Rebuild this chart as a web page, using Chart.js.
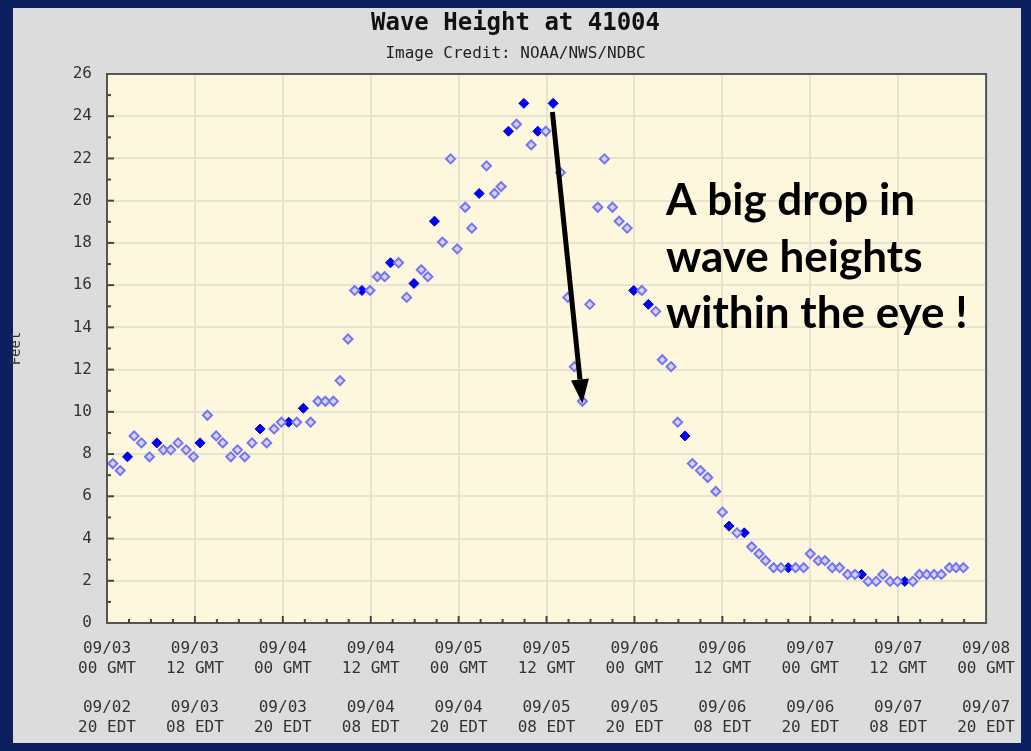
<!DOCTYPE html>
<html>
<head>
<meta charset="utf-8">
<script src="https://cdn.jsdelivr.net/npm/chart.js@4/dist/chart.umd.min.js"></script>
<style>
  html, body { margin: 0; padding: 0; background: #0c1f5f; }
  #wrap { width: 1031px; height: 751px; }
</style>
</head>
<body>
<div id="wrap"><canvas id="waveChart" width="1031" height="751"></canvas></div>
<script>
// wave height at buoy 41004, hours after 09/03 00 GMT
const openHours = [0.8, 1.8, 3.7, 4.7, 5.8, 7.7, 8.7, 9.7, 10.8, 11.8, 13.7, 14.9, 15.8, 16.9, 17.8, 18.8, 19.8,
  21.8, 22.8, 23.8, 25.9, 27.8, 28.8, 29.8, 30.9, 31.8, 32.9, 33.8, 35.9, 36.9, 37.9, 39.8, 40.9, 42.9, 43.8,
  45.8, 46.9, 47.8, 48.9, 49.8, 51.8, 52.9, 53.8, 55.9, 57.9, 59.9, 61.9, 62.9, 63.8, 64.9, 65.9, 67.0, 67.9,
  69.0, 69.9, 71.0, 73.0, 74.9, 75.8, 77.0, 77.9, 79.9, 81.0, 82.0, 83.1, 84.0, 86.0, 88.0, 89.0, 89.9, 91.0,
  92.0, 94.0, 95.1, 96.0, 97.1, 98.0, 99.0, 100.0, 101.1, 102.1, 103.9, 105.0, 105.9, 106.9, 107.9, 110.0,
  110.9, 111.9, 112.9, 113.9, 115.0, 115.9, 116.9];
const openFeet = [7.55, 7.22, 8.86, 8.53, 7.87, 8.2, 8.2, 8.53, 8.2, 7.87, 9.84, 8.86, 8.53, 7.87, 8.2, 7.87, 8.53,
  8.53, 9.19, 9.51, 9.51, 9.51, 10.5, 10.5, 10.5, 11.48, 13.45, 15.75, 15.75, 16.4, 16.4, 17.06, 15.42, 16.73, 16.4,
  18.04, 21.98, 17.72, 19.69, 18.7, 21.65, 20.34, 20.67, 23.62, 22.64, 23.29, 21.33, 15.42, 12.14, 10.5, 15.09, 19.69, 21.98,
  19.69, 19.03, 18.7, 15.75, 14.76, 12.47, 12.14, 9.51, 7.55, 7.22, 6.89, 6.23, 5.25, 4.27, 3.61, 3.28, 2.95, 2.62,
  2.62, 2.62, 2.62, 3.28, 2.95, 2.95, 2.62, 2.62, 2.3, 2.3, 1.97, 1.97, 2.3, 1.97, 1.97, 1.97,
  2.3, 2.3, 2.3, 2.3, 2.62, 2.62, 2.62];
const solidHours = [2.8, 6.8, 12.7, 20.9, 24.8, 26.8, 34.8, 38.7, 41.9, 44.7, 50.8, 54.8, 56.9, 58.8, 60.9,
  71.9, 73.9, 78.9, 84.9, 87.0, 93.0, 103.0, 108.9];
const solidFeet = [7.87, 8.53, 8.53, 9.19, 9.51, 10.17, 15.75, 17.06, 16.08, 19.03, 20.34, 23.29, 24.61, 23.29, 24.61,
  15.75, 15.09, 8.86, 4.59, 4.27, 2.62, 2.3, 1.97];

// axis labels, one per 12 hours
const gmtDates = ["09/03", "09/03", "09/04", "09/04", "09/05", "09/05", "09/06", "09/06", "09/07", "09/07", "09/08"];
const gmtHours = ["00 GMT", "12 GMT", "00 GMT", "12 GMT", "00 GMT", "12 GMT", "00 GMT", "12 GMT", "00 GMT", "12 GMT", "00 GMT"];
const edtDates = ["09/02", "09/03", "09/03", "09/04", "09/04", "09/05", "09/05", "09/06", "09/06", "09/07", "09/07"];
const edtHours = ["20 EDT", "08 EDT", "20 EDT", "08 EDT", "20 EDT", "08 EDT", "20 EDT", "08 EDT", "20 EDT", "08 EDT", "20 EDT"];

// note and arrow (arrow ends given in hours / feet)
const noteLines = ["A big drop in", "wave heights", "within the eye !"];
const arrowFrom = [60.8, 24.2];
const arrowTo = [64.9, 10.4];

const mono = "'DejaVu Sans Mono', monospace";
const toPoints = (xs, ys) => xs.map((x, i) => ({ x: x, y: ys[i] }));

const framePlugin = {
  id: "frame",
  beforeDraw(chart) {
    const c = chart.ctx;
    const a = chart.chartArea;
    c.save();
    c.fillStyle = "#0c1f5f";
    c.fillRect(0, 0, chart.width, chart.height);
    c.fillStyle = "#dcdcdc";
    c.fillRect(13, 8, 1008, 735);
    c.fillStyle = "#fdf7de";
    c.fillRect(a.left, a.top, a.right - a.left, a.bottom - a.top);
    c.restore();
  },
  afterDatasetsDraw(chart) {
    const c = chart.ctx;
    const a = chart.chartArea;
    const xs = chart.scales.x;
    const ys = chart.scales.y;
    c.save();
    c.strokeStyle = "#555";
    c.lineWidth = 2;
    c.strokeRect(a.left, a.top, a.right - a.left, a.bottom - a.top);
    // inside tick marks
    c.strokeStyle = "#444";
    for (let h = 3; h < 120; h += 3) {
      const px = xs.getPixelForValue(h);
      const len = h % 12 === 0 ? 7 : 4;
      c.beginPath();
      c.moveTo(px, a.bottom);
      c.lineTo(px, a.bottom - len);
      c.stroke();
    }
    for (let v = 1; v < 26; v++) {
      const py = ys.getPixelForValue(v);
      const len = v % 2 === 0 ? 7 : 4;
      c.beginPath();
      c.moveTo(a.left, py);
      c.lineTo(a.left + len, py);
      c.stroke();
    }
    // arrow
    const x1 = xs.getPixelForValue(arrowFrom[0]);
    const y1 = ys.getPixelForValue(arrowFrom[1]);
    const x2 = xs.getPixelForValue(arrowTo[0]);
    const y2 = ys.getPixelForValue(arrowTo[1]);
    const ang = Math.atan2(y2 - y1, x2 - x1);
    const headLen = 24;
    const headW = 9;
    const bx = x2 - headLen * Math.cos(ang);
    const by = y2 - headLen * Math.sin(ang);
    c.strokeStyle = "#000";
    c.fillStyle = "#000";
    c.lineWidth = 5;
    c.beginPath();
    c.moveTo(x1, y1);
    c.lineTo(bx, by);
    c.stroke();
    c.beginPath();
    c.moveTo(x2, y2);
    c.lineTo(bx + headW * Math.sin(ang), by - headW * Math.cos(ang));
    c.lineTo(bx - headW * Math.sin(ang), by + headW * Math.cos(ang));
    c.closePath();
    c.fill();
    // note text
    c.font = "bold 44px Lato, 'Open Sans', sans-serif";
    c.textBaseline = "alphabetic";
    c.textAlign = "left";
    noteLines.forEach((t, i) => c.fillText(t, 666, 215 + i * 56.5));
    c.restore();
  }
};

new Chart(document.getElementById("waveChart"), {
  type: "scatter",
  data: {
    datasets: [
      {
        label: "open",
        data: toPoints(openHours, openFeet),
        pointStyle: "rectRot",
        radius: 4.5,
        borderWidth: 2,
        borderColor: "#7474f4",
        backgroundColor: "#d6d4f6"
      },
      {
        label: "solid",
        data: toPoints(solidHours, solidFeet),
        pointStyle: "rectRot",
        radius: 5,
        borderWidth: 1,
        borderColor: "#0000e6",
        backgroundColor: "#0000f0"
      }
    ]
  },
  options: {
    responsive: false,
    animation: false,
    layout: { padding: { left: 4, right: 4, top: 8, bottom: 9 } },
    plugins: {
      legend: { display: false },
      tooltip: { enabled: false },
      title: {
        display: true,
        text: "Wave Height at 41004",
        color: "#111",
        font: { family: mono, size: 24, weight: "bold", lineHeight: 1.2 },
        padding: { top: 1, bottom: 0 }
      },
      subtitle: {
        display: true,
        text: "Image Credit: NOAA/NWS/NDBC",
        color: "#222",
        font: { family: mono, size: 16, lineHeight: 1.2 },
        padding: { top: 6, bottom: 11 }
      }
    },
    scales: {
      x: {
        type: "linear",
        min: 0,
        max: 120,
        afterFit(scale) { scale.height = 119; },
        afterBuildTicks(scale) {
          scale.ticks = gmtDates.map((d, i) => ({ value: i * 12 }));
        },
        ticks: {
          autoSkip: false,
          maxRotation: 0,
          padding: 16,
          color: "#333",
          font: { family: mono, size: 16, lineHeight: 1.23 },
          callback: (v, i) => [gmtDates[i], gmtHours[i], "", edtDates[i], edtHours[i]]
        },
        grid: { color: "#e8e4d2", lineWidth: 2, drawTicks: false },
        border: { display: false }
      },
      y: {
        min: 0,
        max: 26,
        afterFit(scale) { scale.width = 103; },
        ticks: {
          stepSize: 2,
          padding: 15,
          color: "#333",
          font: { family: mono, size: 16 }
        },
        grid: { color: "#e8e4d2", lineWidth: 2, drawTicks: false },
        border: { display: false },
        title: {
          display: true,
          text: "Feet",
          color: "#333",
          font: { family: mono, size: 14 },
          padding: { top: 4, bottom: 0 }
        }
      },
      yRight: {
        position: "right",
        min: 0,
        max: 26,
        afterFit(scale) { scale.width = 40; },
        ticks: { display: false },
        grid: { display: false },
        border: { display: false }
      }
    }
  },
  plugins: [framePlugin]
});
</script>
</body>
</html>
